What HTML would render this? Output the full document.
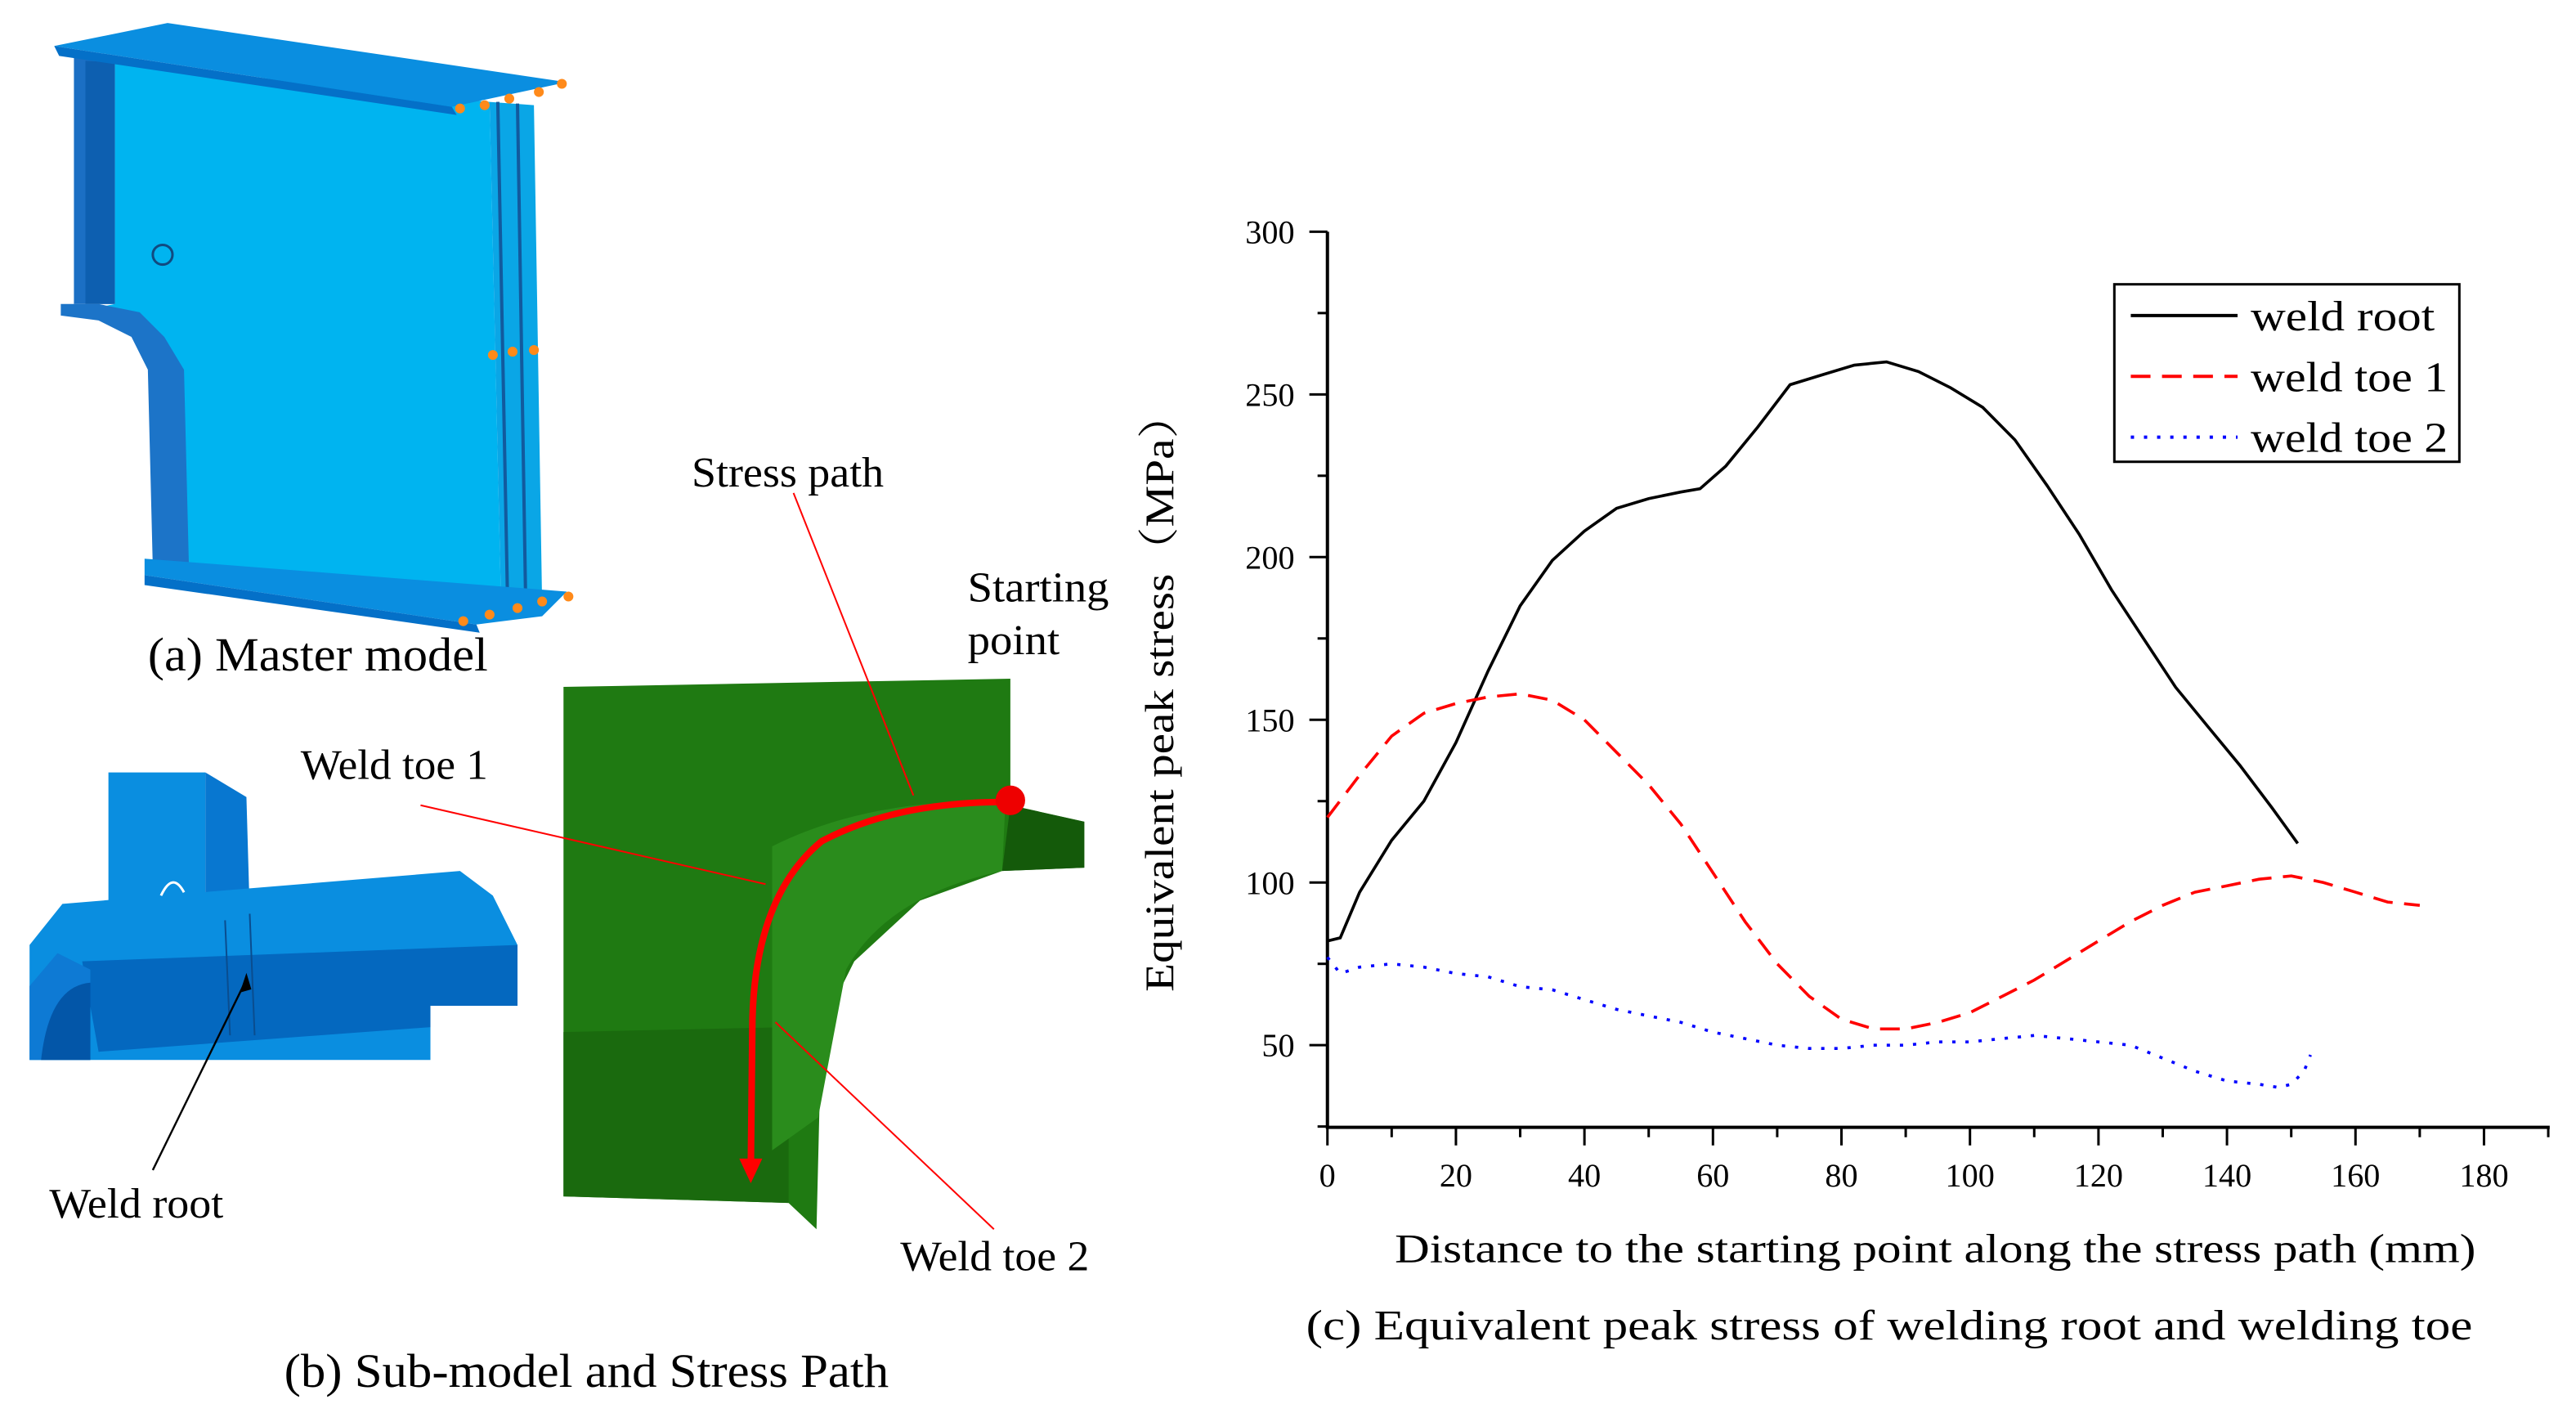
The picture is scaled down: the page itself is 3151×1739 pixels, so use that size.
<!DOCTYPE html>
<html><head><meta charset="utf-8"><style>
html,body{margin:0;padding:0;background:#fff;}
svg{display:block;font-family:"Liberation Serif",serif;}
</style></head><body>
<svg id="fig" width="3151" height="1739" viewBox="0 0 1568 865.3" preserveAspectRatio="none" xmlns="http://www.w3.org/2000/svg">
<rect width="1568" height="866" fill="#fff"/>
<g>
  <polygon points="45,35 70,38 70,185 45,185" fill="#1b6fc4"/>
  <polygon points="52,37 70,38 70,185 52,185" fill="#0d5fb0"/>
  <polygon points="70,38 298,62 305,368 95,348 95,225 80,190 55,188 70,185" fill="#00b4f0"/>
  <polygon points="298,62 325,64 330,368 305,368" fill="#0aa6e6"/>
  <line x1="303" y1="62" x2="309" y2="368" stroke="#125a9e" stroke-width="2"/>
  <line x1="315" y1="63" x2="320" y2="368" stroke="#125a9e" stroke-width="2"/>
  <polygon points="33,28 102,14 345,50 275,65" fill="#0a8ee0"/>
  <polygon points="33,28 275,65 278,70 36,34" fill="#0470c8"/>
  <polygon points="37,185 60,185 85,190 100,205 112,225 115,345 93,345 90,225 80,205 60,195 37,192" fill="#1c74c8"/>
  <polygon points="88,340 115,342 345,360 330,375 290,380 88,350" fill="#0a8ee0"/>
  <polygon points="88,350 290,380 292,385 88,356" fill="#0470c8"/>
  <circle cx="99" cy="155" r="6" fill="none" stroke="#114a80" stroke-width="1.5"/>
  <g fill="#ff8a1a">
    <circle cx="280" cy="66" r="3"/><circle cx="295" cy="64" r="3"/><circle cx="310" cy="60" r="3"/><circle cx="328" cy="56" r="3"/><circle cx="342" cy="51" r="3"/>
    <circle cx="300" cy="216" r="3"/><circle cx="312" cy="214" r="3"/><circle cx="325" cy="213" r="3"/>
    <circle cx="282" cy="378" r="3"/><circle cx="298" cy="374" r="3"/><circle cx="315" cy="370" r="3"/><circle cx="330" cy="366" r="3"/><circle cx="346" cy="363" r="3"/>
  </g>
</g>
<text x="90" y="408" font-size="29" textLength="207" lengthAdjust="spacingAndGlyphs">(a) Master model</text>
<g>
  <polygon points="66,470 125,470 125,550 66,550" fill="#0a8ee0"/>
  <polygon points="125,470 150,485 152,555 125,550" fill="#0877d0"/>
  <polygon points="18,575 38,550 280,530 300,545 315,575 315,612 262,612 262,645 18,645" fill="#0a8ee0"/>
  <polygon points="50,585 315,575 315,612 262,612 262,625 60,640" fill="#0468bf"/>
  <polygon points="18,600 35,580 55,590 55,645 18,645" fill="#0e7ad4"/>
  <path d="M25,645 Q30,600 55,598 L55,645Z" fill="#0356a8"/>
  <line x1="137" y1="560" x2="140" y2="630" stroke="#0a4d8f" stroke-width="1"/>
  <line x1="152" y1="556" x2="155" y2="630" stroke="#0a4d8f" stroke-width="1"/>
  <path d="M98,545 Q105,530 112,543" fill="none" stroke="#fff" stroke-width="1.5"/>
</g>
<line x1="93" y1="712" x2="150" y2="596" stroke="#000" stroke-width="1.2"/>
<polygon points="150,592 146,604 153,602" fill="#000"/>
<text x="30" y="741" font-size="26" textLength="106" lengthAdjust="spacingAndGlyphs">Weld root</text>
<g>
  <polygon points="343,418 615,413 615,490 660,500 660,528 610,530 560,548 520,585 500,625 497,748 480,732 343,728" fill="#1f7a12"/>
  <polygon points="615,490 660,500 660,528 610,530 615,490" fill="#145a0a"/>
  <polygon points="343,628 480,625 480,732 343,728" fill="#1a6a0e"/>
  <path d="M470,515 Q530,485 612,488 L610,530 Q540,545 515,590 L498,680 L470,700Z" fill="#2a8c1c"/>
</g>
<path d="M612,488 Q545,488 500,512 Q460,545 458,620 L457,712" fill="none" stroke="#f00" stroke-width="4"/>
<polygon points="450,705 464,705 457,720" fill="#f00"/>
<circle cx="615" cy="487" r="9" fill="#e00"/>
<g stroke="#f00" stroke-width="1">
  <line x1="483" y1="300" x2="556" y2="484"/>
  <line x1="256" y1="490" x2="466" y2="538"/>
  <line x1="605" y1="748" x2="472" y2="622"/>
</g>
<text x="421" y="296" font-size="26" textLength="117" lengthAdjust="spacingAndGlyphs">Stress path</text>
<text x="589" y="366" font-size="26" textLength="86" lengthAdjust="spacingAndGlyphs">Starting</text>
<text x="589" y="398" font-size="26" textLength="56" lengthAdjust="spacingAndGlyphs">point</text>
<text x="183" y="474" font-size="26" textLength="114" lengthAdjust="spacingAndGlyphs">Weld toe 1</text>
<text x="548" y="773" font-size="26" textLength="115" lengthAdjust="spacingAndGlyphs">Weld toe 2</text>
<text x="173" y="844" font-size="29" textLength="368" lengthAdjust="spacingAndGlyphs">(b) Sub-model and Stress Path</text>
<g id="chart"></g>
<text x="1178" y="768" font-size="25" text-anchor="middle" textLength="658" lengthAdjust="spacingAndGlyphs">Distance to the starting point along the stress path (mm)</text>
<text transform="translate(714,421) rotate(-90)" font-size="25" text-anchor="middle" font-family="Liberation Serif, Noto Serif CJK SC, serif" textLength="365" lengthAdjust="spacingAndGlyphs">Equivalent peak stress（MPa）</text>
<text x="1150" y="815" font-size="26" text-anchor="middle" textLength="710" lengthAdjust="spacingAndGlyphs">(c) Equivalent peak stress of welding root and welding toe</text>
<g>
  <rect x="1287" y="173" width="210" height="108" fill="#fff" stroke="#000" stroke-width="1.5"/>
  <line x1="1297" y1="192" x2="1362" y2="192" stroke="#000" stroke-width="2"/>
  <line x1="1297" y1="229" x2="1362" y2="229" stroke="#f00" stroke-width="2" stroke-dasharray="12,7"/>
  <line x1="1297" y1="266" x2="1362" y2="266" stroke="#00f" stroke-width="2" stroke-dasharray="2,6"/>
  <text x="1370" y="201" font-size="26" textLength="112" lengthAdjust="spacingAndGlyphs">weld root</text>
  <text x="1370" y="238" font-size="26" textLength="120" lengthAdjust="spacingAndGlyphs">weld toe 1</text>
  <text x="1370" y="275" font-size="26" textLength="120" lengthAdjust="spacingAndGlyphs">weld toe 2</text>
</g>
</svg>
<script>
const xTicks=[0,20,40,60,80,100,120,140,160,180];
const yTicks=[50,100,150,200,250,300];
const rootX=[0,2,5,10,15,20,25,30,35,40,45,50,55,58,62,67,72,77,82,87,92,97,102,107,112,117,122,127,132,137,142,147,151];
const rootY=[82,83,97,113,125,143,165,185,199,208,215,218,220,221,228,240,253,256,259,260,257,252,246,236,222,207,190,175,160,148,136,123,112];
const toe1X=[0,5,10,15,20,25,30,35,40,45,50,55,60,65,70,75,80,85,90,95,100,105,110,115,120,125,130,135,140,145,150,155,160,165,170];
const toe1Y=[120,133,145,152,155,157,158,156,150,140,130,118,103,88,75,65,58,55,55,57,60,65,70,76,82,88,93,97,99,101,102,100,97,94,93];
const toe2X=[0,2,5,10,15,20,25,30,35,40,45,50,55,60,65,70,75,80,85,90,95,100,105,110,115,120,125,130,135,140,145,148,150,152,153];
const toe2Y=[77,72,74,75,74,72,71,68,67,64,61,59,57,54,52,50,49,49,50,50,51,51,52,53,52,51,50,46,42,39,38,37,38,42,47];
const NS="http://www.w3.org/2000/svg";
const g=document.getElementById('chart');
const sx=v=>808+v*(1512-808)/180;
const sy=v=>636-(v-50)*(636-141)/250;
function mk(t,a){const e=document.createElementNS(NS,t);for(const k in a)e.setAttribute(k,a[k]);g.appendChild(e);return e;}
let ax=mk('line',{x1:808,y1:141,x2:808,y2:686,stroke:'#000','stroke-width':2});


let bx=mk('line',{x1:807,y1:686,x2:1552,y2:686,stroke:'#000','stroke-width':2});


for(let v=25;v<=300;v+=25){const y=sy(v);const major=v%50===0;mk('line',{x1:major?797:802,y1:y,x2:808,y2:y,stroke:'#000','stroke-width':1.5});}
yTicks.forEach(v=>{const t=mk('text',{x:788,y:sy(v)+7,'font-size':20,'text-anchor':'end'});t.textContent=v;

});
for(let v=0;v<=190;v+=10){const x=sx(v);const major=v%20===0;mk('line',{x1:x,y1:686,x2:x,y2:major?697:692,stroke:'#000','stroke-width':1.5});}
xTicks.forEach(v=>{const t=mk('text',{x:sx(v),y:722,'font-size':20,'text-anchor':'middle'});t.textContent=v;

});
function series(X,Y,color,dash,name){const d=X.map((x,i)=>(i?'L':'M')+sx(x).toFixed(1)+','+sy(Y[i]).toFixed(1)).join('');
const p=mk('path',{d:d,fill:'none',stroke:color,'stroke-width':1.8});if(dash)p.setAttribute('stroke-dasharray',dash);

}
series(rootX,rootY,'#000',null,'weld-root-line');
series(toe1X,toe1Y,'#f00','12,7','weld-toe-1-line');
series(toe2X,toe2Y,'#00f','2,6','weld-toe-2-line');
</script>
</body></html>
